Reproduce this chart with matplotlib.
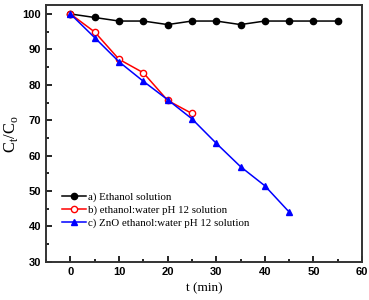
import numpy as np
import matplotlib.pyplot as plt
from matplotlib.ticker import MultipleLocator

t_a = [0, 5, 10, 15, 20, 25, 30, 35, 40, 45, 50, 55]
c_a = [100, 99, 98, 98, 97, 98, 98, 97, 98, 98, 98, 98]

t_b = [0, 5, 10, 15, 20, 25]
c_b = [100, 94.9, 87.2, 83.4, 75.6, 71.9]

t_c = [0, 5, 10, 15, 20, 25, 30, 35, 40, 45]
c_c = [100, 93.3, 86.5, 81.0, 75.8, 70.4, 63.5, 56.9, 51.5, 44.1]

labels = ['a) Ethanol solution',
          'b) ethanol:water pH 12 solution',
          'c) ZnO ethanol:water pH 12 solution']

fig = plt.figure(figsize=(3.69, 3.0), dpi=100)
ax = fig.add_axes([0.125, 0.127, 0.856, 0.856])

ax.plot(t_a, c_a, color='black', marker='o', ms=4.5, lw=1.1, label=labels[0])
ax.plot(t_b, c_b, color='red', marker='o', ms=4.5, lw=1.1, mfc='white', mec='red', label=labels[1])
ax.plot(t_c, c_c, color='blue', marker='^', ms=5, lw=1.1, label=labels[2])

ax.set_xlim(-5, 60)
ax.set_ylim(30, 102.5)
ax.xaxis.set_major_locator(MultipleLocator(10))
ax.xaxis.set_minor_locator(MultipleLocator(5))
ax.yaxis.set_major_locator(MultipleLocator(10))
ax.yaxis.set_minor_locator(MultipleLocator(5))
ax.tick_params(which='both', direction='in', width=1.2)
ax.tick_params(which='major', length=4)
ax.tick_params(which='minor', length=2.5)
for s in ax.spines.values():
    s.set_linewidth(1.4)
    s.set_color('#333333')

for lab in ax.get_xticklabels() + ax.get_yticklabels():
    lab.set_fontfamily('Liberation Sans')
    lab.set_fontweight('bold')
    lab.set_fontsize(8)

ax.set_xlabel('t (min)', fontfamily='Liberation Serif', fontsize=9.5)
ax.set_ylabel(r'C$_\mathregular{t}$/C$_\mathregular{o}$', fontfamily='Liberation Serif',
              fontsize=12, labelpad=2)

ax.legend(loc='lower left', bbox_to_anchor=(0.02, 0.095), frameon=False,
          prop={'family': 'Liberation Serif', 'size': 7.8},
          handlelength=2.2, handletextpad=0.2, labelspacing=0.28)

fig.savefig('out.png', dpi=100)
